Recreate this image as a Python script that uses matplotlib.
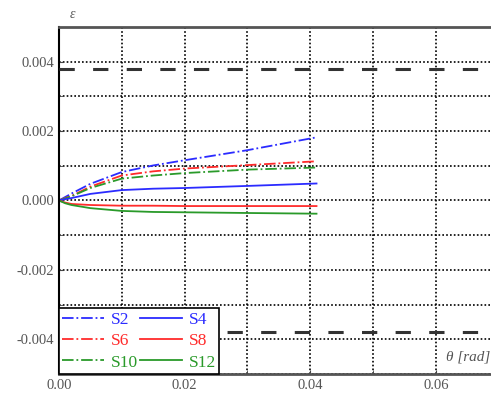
import numpy as np
import matplotlib
matplotlib.use('Agg')
import matplotlib.pyplot as plt

# rotation angle [rad] where the strains were read
theta = [0, 0.001, 0.002, 0.005, 0.01, 0.015, 0.02, 0.03, 0.041]

# strain per gauge
s2 = [0, 0.0001, 0.0002, 0.00048, 0.00082, 0.00101, 0.00116, 0.00145, 0.00182]
s4 = [0, 0.00004, 0.00007, 0.00019, 0.0003, 0.00034, 0.00036, 0.00042, 0.00049]
s6 = [0, 0.00007, 0.00013, 0.0004, 0.00072, 0.00084, 0.00092, 0.00102, 0.00113]
s8 = [0, -0.00006, -0.0001, -0.00013, -0.00015, -0.00015, -0.00016, -0.00016, -0.00016]
s10 = [0, 0.00006, 0.00012, 0.00036, 0.00063, 0.00072, 0.00079, 0.00089, 0.00095]
s12 = [0, -0.00008, -0.00013, -0.00022, -0.0003, -0.00033, -0.00034, -0.00036, -0.00038]

eps_limit = 0.0038

plt.rcParams['font.family'] = ['Liberation Serif', 'DejaVu Serif']

fig = plt.figure(figsize=(4.91, 4.0), dpi=100)
ax = fig.add_axes([0.120, 0.065, 0.8957, 0.8675])

blue = '#2b2bff'
red = '#ff2b2b'
green = '#2a9a2a'

ax.axhline(eps_limit, color='#333333', lw=2.2, ls=(0, (5, 6)), zorder=3)
ax.axhline(-eps_limit, color='#333333', lw=2.2, ls=(0, (5, 6)), zorder=3)

l2, = ax.plot(theta, s2, color=blue, ls='-.', lw=1.3, label='S2')
l6, = ax.plot(theta, s6, color=red, ls='-.', lw=1.3, label='S6')
l10, = ax.plot(theta, s10, color=green, ls='-.', lw=1.3, label='S10')
l4, = ax.plot(theta, s4, color=blue, ls='-', lw=1.3, label='S4')
l8, = ax.plot(theta, s8, color=red, ls='-', lw=1.3, label='S8')
l12, = ax.plot(theta, s12, color=green, ls='-', lw=1.3, label='S12')

ax.set_xlim(0, 0.07)
ax.set_ylim(-0.005, 0.005)
ax.set_xticks([0, 0.02, 0.04, 0.06])
ax.set_xticklabels(['0.00', '0.02', '0.04', '0.06'])
ax.set_yticks([-0.004, -0.002, 0, 0.002, 0.004])
ax.set_yticklabels(['-0.004', '-0.002', '0.000', '0.002', '0.004'])
ax.set_xticks(np.arange(0.01, 0.07, 0.02), minor=True)
ax.set_yticks(np.arange(-0.005, 0.0051, 0.002), minor=True)
ax.tick_params(which='both', direction='in', length=3, labelsize=10.5,
               labelcolor='#555555', color='#444444')
ax.grid(True, which='both', color='black', ls=(0, (1, 1.3)), lw=1.2)

for side in ['top', 'bottom']:
    ax.spines[side].set_linewidth(2.0)
    ax.spines[side].set_color('#555555')
ax.spines['left'].set_linewidth(1.5)
ax.spines['left'].set_color('black')

leg = ax.legend(handles=[l2, l6, l10, l4, l8, l12], ncol=2, loc='lower left',
                borderaxespad=0, fancybox=False, framealpha=1, edgecolor='black',
                fontsize=12.5, handlelength=2.4, handletextpad=0.4,
                columnspacing=0.1, labelspacing=0.3, borderpad=0.2,
                labelcolor='linecolor')
leg.get_frame().set_linewidth(1.2)
leg.set_zorder(5)

fig.text(72 / 491, 1 - 14 / 400, 'ε', fontsize=10, style='italic',
         color='#555555', ha='center', va='center')
fig.text(0.999, 1 - 357 / 400, 'θ [rad]', fontsize=11, style='italic',
         color='#555555', ha='right', va='center')

fig.savefig('out.png', dpi=100)
